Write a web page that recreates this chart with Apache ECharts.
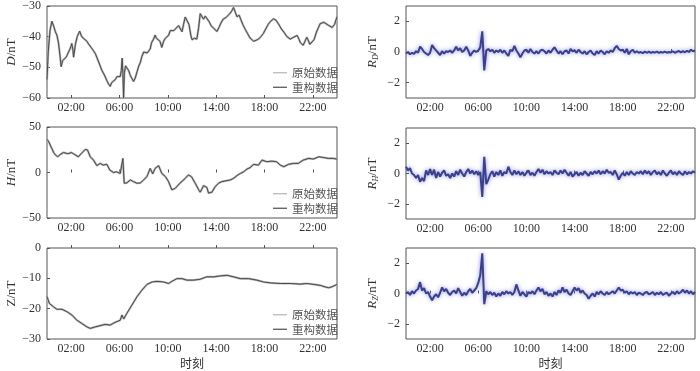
<!DOCTYPE html>
<html><head><meta charset="utf-8">
<script src="https://cdn.jsdelivr.net/npm/echarts@6/dist/echarts.min.js"></script>
<style>html,body{margin:0;padding:0;background:#fff}#c{width:700px;height:371px}</style>
</head><body><div id="c"></div>
<script>
const tickHours=[2,6,10,14,18,22];
const resTicks=[-2,0,2];
const legendNames=['原始数据','重构数据'];
const dPts=[[0,-54],[0.1,-45],[0.25,-38],[0.4,-35],[0.55,-36.5],[0.69,-38.4],[0.82,-39.5],[0.95,-42],[1.1,-47],[1.17,-49.8],[1.3,-47.8],[1.45,-47.2],[1.6,-46.6],[1.75,-46],[1.9,-44],[1.98,-43.2],[2.05,-42.2],[2.15,-44.5],[2.2,-46.7],[2.35,-42.5],[2.5,-40],[2.7,-38.2],[2.85,-39.8],[3.0,-40.5],[3.15,-40.8],[3.3,-41.5],[3.44,-42.4],[3.65,-43.5],[3.85,-44.6],[4.0,-45.5],[4.13,-46.8],[4.3,-48.5],[4.54,-51],[4.75,-52.5],[4.95,-54.3],[5.1,-55.5],[5.23,-56.2],[5.35,-55],[5.5,-55],[5.65,-54],[5.8,-53],[5.95,-52.5],[6.06,-53],[6.15,-51],[6.22,-47],[6.28,-52],[6.34,-60],[6.4,-52],[6.5,-49.5],[6.6,-50],[6.75,-51],[6.9,-52.7],[7.05,-53.8],[7.16,-54.6],[7.3,-53.5],[7.45,-51.5],[7.6,-49.5],[7.72,-48.5],[7.85,-46.5],[8.0,-45],[8.15,-44.6],[8.3,-45.3],[8.45,-45],[8.54,-44],[8.65,-42],[8.82,-40.8],[8.95,-39.5],[9.05,-40.5],[9.2,-40],[9.35,-41.5],[9.5,-43.5],[9.65,-41.5],[9.8,-40.5],[10.07,-39.5],[10.2,-38],[10.33,-37.4],[10.5,-38],[10.65,-37.5],[10.89,-36.4],[11.0,-37],[11.17,-38.4],[11.3,-36],[11.44,-33.6],[11.6,-33.5],[11.75,-36],[11.9,-39.5],[12.0,-41],[12.2,-40.5],[12.4,-40.8],[12.55,-37],[12.68,-32.5],[12.8,-33],[12.95,-34.3],[13.1,-33.3],[13.24,-33],[13.4,-35],[13.6,-36.5],[13.8,-37.3],[14.07,-38.3],[14.25,-36.8],[14.4,-35.5],[14.6,-34.2],[14.8,-33.8],[15.0,-33],[15.17,-32.3],[15.3,-31.5],[15.44,-30.5],[15.58,-32],[15.72,-33.5],[15.9,-33],[16.05,-34.5],[16.2,-36],[16.4,-37.6],[16.6,-39],[16.8,-40.4],[17.1,-41.5],[17.3,-41.2],[17.5,-40.8],[17.7,-40],[17.9,-39],[18.1,-37.5],[18.3,-36],[18.5,-35],[18.75,-34.2],[18.95,-34.6],[19.15,-35.8],[19.4,-37.5],[19.6,-38.5],[19.86,-40],[20.13,-40.8],[20.4,-40.2],[20.55,-39.8],[20.7,-39.6],[20.85,-40.8],[20.97,-42],[21.2,-42.8],[21.35,-41.5],[21.5,-40.2],[21.6,-41],[21.75,-42.5],[21.9,-43],[22.1,-41],[22.3,-38.5],[22.6,-35.8],[22.9,-35.3],[23.1,-35.8],[23.3,-36.3],[23.6,-37],[23.8,-36],[24,-33.5]];
const hPts=[[0,36.5],[0.15,33.6],[0.4,26.4],[0.55,22],[0.68,19.5],[0.88,17.3],[1.1,19.8],[1.37,22],[1.6,21],[1.8,20.8],[2.0,22],[2.2,20.5],[2.35,19.8],[2.6,17.3],[2.85,21],[3.16,25.3],[3.35,24.8],[3.58,17.3],[3.85,13.6],[4.13,7.5],[4.4,10],[4.65,8.2],[4.95,9],[5.2,2.7],[5.5,0],[5.75,0.8],[6.06,-1],[6.2,0],[6.28,15.5],[6.39,-11.8],[6.6,-11.5],[6.9,-8.2],[7.15,-10],[7.44,-11.8],[7.72,-11.5],[8.0,-8.2],[8.27,-4.5],[8.54,4.5],[8.75,-1.5],[8.95,4.5],[9.24,7.5],[9.5,-1],[9.8,-4.5],[10.06,-10],[10.33,-19],[10.6,-17.5],[11.0,-11.8],[11.44,-6.4],[11.7,-2.7],[11.95,-4.5],[12.27,-11.8],[12.55,-19],[12.68,-21.6],[12.96,-14.4],[13.23,-16.5],[13.37,-22.7],[13.65,-21.6],[13.92,-15.5],[14.2,-11.8],[14.47,-10],[14.89,-8.9],[15.17,-8.2],[15.44,-6.4],[15.72,-3.5],[16.0,-1],[16.28,0.8],[16.55,3.8],[16.8,5.3],[17.1,8.9],[17.5,8.2],[17.79,13.6],[18.2,11.8],[18.6,12.5],[19.0,11.8],[19.3,8.2],[19.6,6.4],[20.0,9],[20.4,10],[20.8,10],[21.2,13.6],[21.65,15.5],[22.05,14.8],[22.5,17.3],[22.9,16.4],[23.3,15.5],[23.7,15.5],[24,14.7]];
const zPts=[[0,-16],[0.2,-18.3],[0.55,-19.4],[0.82,-20.2],[1.24,-20.2],[1.65,-21],[2.06,-22.1],[2.47,-23.8],[2.89,-24.9],[3.3,-26],[3.58,-26.5],[4.0,-26],[4.4,-25.6],[4.82,-25.2],[5.23,-25.4],[5.65,-24.5],[6.06,-23.8],[6.2,-22.1],[6.35,-23.4],[6.6,-21.6],[7.03,-18.8],[7.44,-16.1],[7.85,-13.9],[8.27,-12],[8.7,-11.2],[9.1,-11],[9.65,-11.2],[10.06,-11.7],[10.33,-11],[10.75,-10.1],[11.17,-10.1],[11.58,-10.6],[12.13,-10.6],[12.68,-10.3],[13.23,-9.5],[13.8,-9.5],[14.34,-9.2],[14.9,-9],[15.44,-9.5],[16.0,-10.1],[16.68,-10.1],[17.37,-10.6],[17.92,-11.2],[18.48,-11.5],[19.3,-11.7],[20.13,-11.7],[20.96,-11.9],[21.5,-11.7],[22.06,-12],[22.6,-12.3],[23.0,-12.8],[23.3,-13.1],[23.58,-12.8],[24,-12]];
// residuals, one value every 10 minutes from 00:00 to 24:00
const rD=[-0.1,0.0,-0.15,-0.05,-0.12,0.05, -0.05,0.35,0.2,0.0,-0.1,-0.2, -0.05,0.45,0.25,0.1,-0.05,-0.2, 0.05,-0.1,0.05,0.0,0.1,-0.05, 0.1,0.35,0.1,0.25,0.0,0.1, 0.35,0.1,-0.25,-0.05,0.1,0.0, 0.1,0.3,1.35,-1.2,0.1,0.2, 0.05,0.15,-0.05,0.1,0.0,0.15, -0.05,0.1,-0.1,-0.25,0.15,0.05, 0.4,0.1,-0.1,-0.35,-0.1,0.1, 0.15,-0.05,0.2,0.0,-0.1,0.05, -0.1,0.1,0.15,0.05,-0.1,0.1, -0.05,0.15,0.3,0.1,-0.1,0.05, -0.15,0.05,0.1,-0.1,0.2,0.05, 0.1,-0.05,0.15,0.0,-0.1,0.05, -0.15,0.0,0.1,-0.1,-0.2,0.05, -0.1,0.1,0.0,-0.15,0.05,-0.05, 0.1,0.0,0.25,0.4,0.2,0.1, 0.15,-0.05,0.2,-0.15,0.05,0.15, -0.05,0.05,-0.05,0.0,-0.08,0.03, -0.05,0.02,-0.06,0.0,-0.04,0.03, -0.06,0.0,-0.04,0.03,-0.05,0.0, -0.03,0.05,-0.05,0.02,0.06,-0.02, 0.05,-0.02,0.08,0.0,0.15,0.05, 0.1];
const rH=[0.45,0.2,0.35,0.0,-0.1,-0.3, -0.1,-0.55,-0.3,-0.5,0.2,-0.1, 0.3,-0.1,0.25,-0.3,0.1,-0.2, 0.05,0.2,-0.15,-0.05,-0.3,0.0, -0.2,0.15,-0.1,0.25,0.0,-0.2, 0.1,0.3,0.0,0.2,-0.05,0.15, -0.1,0.1,-1.55,1.1,-0.7,-0.4, -0.05,0.15,-0.2,0.1,-0.1,0.2, -0.15,0.1,0.0,0.45,0.1,-0.1, 0.2,-0.05,0.15,-0.1,0.1,-0.15, 0.05,0.2,-0.1,0.05,-0.15,0.1, 0.3,0.05,0.25,-0.05,0.15,0.0, 0.1,-0.1,0.2,0.05,-0.05,0.2, 0.0,0.25,0.05,-0.15,0.1,-0.2, -0.05,0.1,-0.15,0.05,-0.1,0.15, 0.0,-0.15,0.1,-0.05,0.15,0.0, 0.2,-0.05,0.15,0.0,0.25,0.05, 0.1,-0.1,0.2,-0.05,-0.4,-0.15, 0.05,-0.15,0.1,-0.1,0.15,0.0, -0.1,0.1,0.0,0.15,-0.05,0.2, 0.0,0.15,-0.1,0.1,0.2,-0.05, 0.1,-0.1,0.2,0.0,-0.15,0.05, 0.2,-0.05,0.1,-0.1,0.15,0.0, -0.1,0.15,-0.05,0.1,0.0,0.15, 0.05];
const rZ=[0.0,0.1,-0.1,0.15,0.0,0.2, 0.3,0.75,0.2,0.35,0.0,0.1, -0.2,-0.45,-0.2,-0.05,-0.25,0.05, 0.4,0.15,0.3,0.05,-0.1,0.1, 0.2,0.0,0.35,0.1,-0.15,0.05, -0.1,0.15,0.3,0.05,0.2,0.35, 0.7,1.2,2.65,-0.7,0.15,-0.05, 0.1,-0.1,0.05,-0.2,0.0,-0.15, 0.1,-0.05,0.15,0.0,0.1,-0.1, 0.1,0.6,0.2,-0.15,0.1,-0.05, -0.2,0.1,0.0,0.15,-0.05,0.2, 0.4,0.15,0.3,-0.05,0.1,-0.15, 0.0,-0.2,0.1,-0.1,0.2,0.05, 0.4,0.1,0.25,0.0,-0.1,0.15, 0.4,0.2,0.35,0.05,0.2,0.0, -0.1,-0.35,-0.15,0.0,-0.2,0.1, -0.05,0.15,0.0,-0.1,0.1,-0.05, 0.05,0.15,0.0,0.2,0.4,0.2, 0.25,0.05,0.15,-0.05,0.1,0.0, 0.1,-0.1,0.05,0.0,-0.1,0.05, 0.1,-0.05,0.0,0.1,-0.1,0.05, -0.05,0.1,-0.1,0.0,0.05,-0.15, 0.0,0.1,-0.05,0.15,0.0,0.1, 0.25,0.05,0.2,0.0,0.15,-0.05, 0.1];

const serif='Liberation Serif';
const cjk='Noto Sans CJK SC';
const frame='#555';
const txt='#333';
const grids=[
  {left:47,top:6,width:290,height:92},
  {left:47,top:127,width:290,height:91},
  {left:47,top:248,width:290,height:91},
  {left:406,top:6,width:289,height:92},
  {left:406,top:128,width:289,height:91},
  {left:406,top:248,width:289,height:91}
].map(g=>Object.assign({show:true,borderColor:frame,borderWidth:1,backgroundColor:'transparent'},g));

const fmtMinus=v=>String(v).replace('-','\u2212');
function xAx(i,bottom){
  return {type:'value',gridIndex:i,min:0,max:24,
    axisLine:{show:false},
    axisTick:{show:true,inside:true,length:3,customValues:tickHours,lineStyle:{color:frame}},
    axisLabel:{customValues:tickHours,formatter:v=>(v<10?'0':'')+v+':00',fontFamily:serif,fontSize:12,color:txt,margin:4},
    splitLine:{show:false},
    name:bottom?'时刻':'',nameLocation:'middle',nameGap:18,
    nameTextStyle:{fontFamily:cjk,fontSize:12,color:txt}};
}
const richName={i:{fontFamily:serif,fontStyle:'italic',fontSize:13,color:txt},
  n:{fontFamily:serif,fontSize:13,color:txt},
  s:{fontFamily:serif,fontStyle:'italic',fontSize:8,color:txt,verticalAlign:'bottom',padding:[6,0,0,0]}};
function yAx(i,min,max,interval,name,gap,custom){
  const a={type:'value',gridIndex:i,min:min,max:max,
    axisLine:{show:false},
    axisTick:{show:true,inside:true,length:3,lineStyle:{color:frame}},
    axisLabel:{formatter:fmtMinus,fontFamily:serif,fontSize:12,color:txt,margin:6},
    splitLine:{show:false},
    name:name,nameLocation:'middle',nameRotate:90,nameGap:gap,
    nameTextStyle:{rich:richName,fontFamily:serif,fontSize:13,color:txt}};
  if(interval) a.interval=interval;
  if(custom){a.axisTick.customValues=custom;a.axisLabel.customValues=custom;}
  return a;
}
const resSeries=(arr,i,name)=>({name:name,type:'line',xAxisIndex:i,yAxisIndex:i,
  data:arr.map((v,k)=>[k/6,v]),showSymbol:false,symbol:'none',
  lineStyle:{color:'#3a3f8e',width:2,shadowColor:'rgba(120,125,205,0.85)',shadowBlur:4},
  color:'#3a3f8e',silent:true});
const pair=(pts,i)=>[
  {name:'原始数据',type:'line',xAxisIndex:i,yAxisIndex:i,data:pts,showSymbol:false,symbol:'none',
    lineStyle:{color:'#b4b4b4',width:2.2},color:'#b4b4b4',silent:true},
  {name:'重构数据',type:'line',xAxisIndex:i,yAxisIndex:i,data:pts,showSymbol:false,symbol:'none',
    lineStyle:{color:'#4a4a4a',width:1},color:'#4a4a4a',silent:true}
];
const leg=top=>({data:legendNames,orient:'vertical',left:268,top:top,itemWidth:14,itemHeight:1.2,itemGap:3,
  icon:'rect',selectedMode:false,textStyle:{fontFamily:cjk,fontSize:11.5,color:'#555'}});

const chart=echarts.init(document.getElementById('c'));
chart.setOption({
  animation:false,
  backgroundColor:'#fff',
  grid:grids,
  legend:[leg(62),leg(183),leg(304)],
  xAxis:[xAx(0,false),xAx(1,false),xAx(2,true),xAx(3,false),xAx(4,false),xAx(5,true)],
  yAxis:[
    yAx(0,-60,-30,10,'{i|D}{n|/nT}',28),
    yAx(1,-50,50,50,'{i|H}{n|/nT}',28),
    yAx(2,-30,0,10,'{n|Z/nT}',28),
    yAx(3,-3,3,null,'{i|R}{s|D}{n|/nT}',26,resTicks),
    yAx(4,-3,3,null,'{i|R}{s|H}{n|/nT}',26,resTicks),
    yAx(5,-3,3,null,'{i|R}{s|Z}{n|/nT}',26,resTicks)
  ],
  series:[].concat(pair(dPts,0),pair(hPts,1),pair(zPts,2),
    [resSeries(rD,3,'RD'),resSeries(rH,4,'RH'),resSeries(rZ,5,'RZ')])
});
</script></body></html>
